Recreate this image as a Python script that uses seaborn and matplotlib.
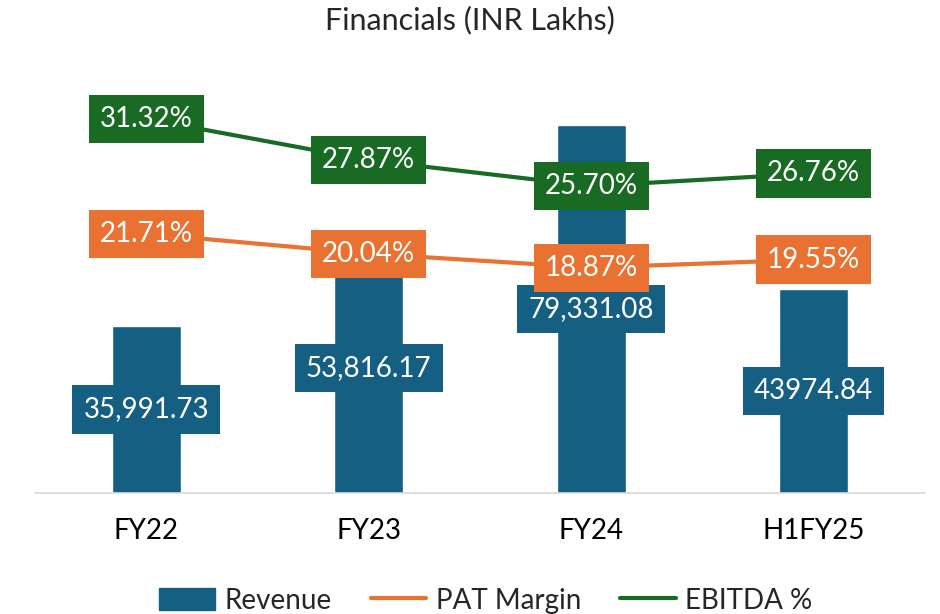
import pandas as pd
import seaborn as sns
import matplotlib.pyplot as plt

periods = ['FY22', 'FY23', 'FY24', 'H1FY25']
revenue = [35991.73, 53816.17, 79331.08, 43974.84]
revenue_labels = ['35,991.73', '53,816.17', '79,331.08', '43974.84']
pat_margin = [21.71, 20.04, 18.87, 19.55]
ebitda_pct = [31.32, 27.87, 25.70, 26.76]

BAR_COLOR = '#156082'
PAT_COLOR = '#E97132'
EBITDA_COLOR = '#196B24'

sns.set_theme(style='white')
plt.rcParams['font.family'] = ['Lato', 'DejaVu Sans']

df = pd.DataFrame({'period': periods, 'revenue': revenue,
                   'pat': pat_margin, 'ebitda': ebitda_pct})

fig = plt.figure(figsize=(9.4, 6.14), dpi=100)
ax = fig.add_axes([35 / 940, 1 - 493 / 614, 890 / 940, 418 / 614])

sns.barplot(data=df, x='period', y='revenue', color=BAR_COLOR, width=0.31,
            saturation=1, ax=ax)
ax.set_ylim(0, 90000)
ax.set_xlim(-0.5, 3.5)

ax2 = ax.twinx()
sns.lineplot(data=df, x='period', y='pat', color=PAT_COLOR, linewidth=3,
             ax=ax2, sort=False)
sns.lineplot(data=df, x='period', y='ebitda', color=EBITDA_COLOR, linewidth=3,
             ax=ax2, sort=False)
ax2.set_ylim(0, 35)

box = dict(boxstyle='square,pad=0.4', edgecolor='none')
for i, (rv, lbl) in enumerate(zip(revenue, revenue_labels)):
    ax.text(i, rv / 2, lbl, ha='center', va='center', color='white', fontsize=20,
            bbox={**box, 'facecolor': BAR_COLOR})
for i, v in enumerate(pat_margin):
    ax2.text(i, v, f'{v:.2f}%', ha='center', va='center', color='white', fontsize=20,
             bbox={**box, 'facecolor': PAT_COLOR})
for i, v in enumerate(ebitda_pct):
    ax2.text(i, v, f'{v:.2f}%', ha='center', va='center', color='white', fontsize=20,
             bbox={**box, 'facecolor': EBITDA_COLOR})

for a in (ax, ax2):
    for side in ('top', 'right', 'left'):
        a.spines[side].set_visible(False)
    a.set_yticks([])
    a.set_ylabel('')
    a.set_xlabel('')
ax2.spines['bottom'].set_visible(False)
ax.spines['bottom'].set_color('#d9d9d9')
ax.spines['bottom'].set_linewidth(1.2)
ax.tick_params(axis='x', length=0, labelsize=20, pad=18, colors='black')

fig.suptitle('Financials (INR Lakhs)', y=0.99, fontsize=22, va='top')

handles = [plt.Rectangle((0, 0), 1, 1, color=BAR_COLOR),
           plt.Line2D([], [], color=PAT_COLOR, linewidth=3, solid_capstyle='round'),
           plt.Line2D([], [], color=EBITDA_COLOR, linewidth=3, solid_capstyle='round')]
fig.legend(handles, ['Revenue', 'PAT Margin', 'EBITDA %'], loc='lower center',
           bbox_to_anchor=(0.517, -0.04), ncol=3, frameon=False, fontsize=20,
           handlelength=2.0, handleheight=0.8, handletextpad=0.35, columnspacing=1.4)

fig.savefig('out.png', dpi=100)
